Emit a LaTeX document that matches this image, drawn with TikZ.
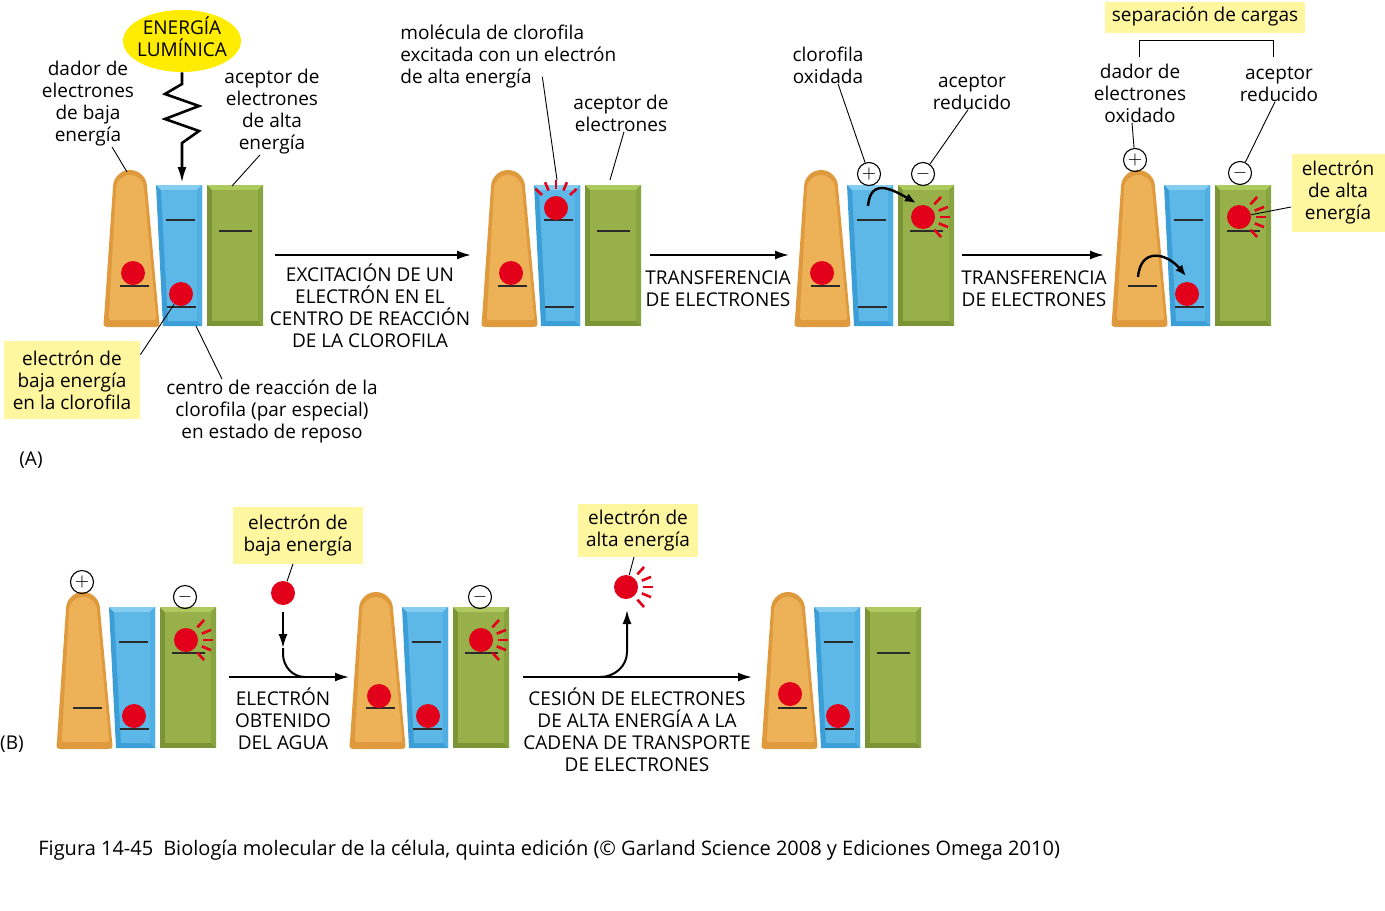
\documentclass[tikz,border=0pt]{standalone}
\usepackage{fontspec}
\setmainfont{Open Sans}
\usetikzlibrary{arrows.meta,positioning,shapes.geometric}
\definecolor{ormain}{HTML}{EDB257}
\definecolor{ordark}{HTML}{E09A3E}
\definecolor{blmain}{HTML}{5DB8E8}
\definecolor{bldark}{HTML}{3C9ED6}
\definecolor{bllight}{HTML}{84CDF1}
\definecolor{blmid}{HTML}{4FAEE2}
\definecolor{grmain}{HTML}{97B04A}
\definecolor{grdark}{HTML}{7A9436}
\definecolor{grlight}{HTML}{AECA5E}
\definecolor{grmid}{HTML}{88A440}
\definecolor{elecred}{HTML}{E3001B}
\definecolor{hlyellow}{HTML}{FFF6A0}
\definecolor{lightyellow}{HTML}{FFEC00}
\definecolor{lvlgray}{HTML}{2B2B2B}

\begin{document}
\begin{tikzpicture}[
    x=0.5pt, y=-0.5pt,
    lbl/.style={align=center, inner sep=0pt, font=\fontsize{9.5}{11}\selectfont},
    hl/.style={lbl, fill=hlyellow},
    lvl/.style={draw=lvlgray, line width=0.8pt},
    elec/.style={circle, fill=elecred, minimum size=12pt, inner sep=0pt},
    ray/.style={draw=elecred, line width=1.3pt},
    charge/.style={circle, draw=black, line width=0.55pt, minimum size=11.5pt, inner sep=0pt, font=\fontsize{9}{9}\selectfont},
    leader/.style={draw=black, line width=0.45pt},
    arrow/.style={-{Latex[length=7pt,width=4.5pt]}, line width=1pt},
    carrow/.style={-{Latex[length=5.5pt,width=4.5pt]}, line width=1.2pt}
]
\useasboundingbox (0,0) rectangle (1385,910);

% the seven photosystem units
\foreach \dx/\dy in {0/0,378/0,691/0,1008/0,-47/422,246/422,658/422}{
\begin{scope}[shift={(\dx,\dy)}]
  % donor
  \fill[ordark] (113,187) arc[start angle=180,end angle=360,radius=17]
     -- (159,319) .. controls (160,327) .. (152,327) -- (111,327)
     .. controls (103,327) .. (104,319) -- cycle;
  \fill[ormain] (116,189) arc[start angle=180,end angle=360,radius=14]
     -- (156,316) .. controls (156,320) .. (152,320) -- (113,320)
     .. controls (109,320) .. (109,316) -- cycle;
  % special pair
  \fill[bldark] (156,185) -- (202,185) -- (202,326) -- (163,326) -- cycle;
  \fill[bllight] (156,185) -- (202,185) -- (197,190) -- (161,190) -- cycle;
  \fill[blmid] (202,185) -- (202,326) -- (197,321) -- (197,190) -- cycle;
  \fill[blmain] (161,190) -- (197,190) -- (197,321) -- (168,321) -- cycle;
  % acceptor
  \fill[grdark] (207,185) rectangle (263,326);
  \fill[grlight] (207,185) -- (263,185) -- (258,190) -- (212,190) -- cycle;
  \fill[grmid] (263,185) -- (263,326) -- (258,321) -- (258,190) -- cycle;
  \fill[grmain] (212,190) rectangle (258,321);
  % energy levels
  \draw[lvl] (120,286) -- (149,286);
  \draw[lvl] (166,220) -- (195,220);
  \draw[lvl] (167,307) -- (196,307);
  \draw[lvl] (219,231) -- (252,231);
\end{scope}}

% ---------- (A) ----------
\node[ellipse, fill=lightyellow, minimum width=59pt, minimum height=31pt, inner sep=0pt] (luz) at (182,41) {};
\node[lbl] (luztxt) at (182,37) {ENERGÍA\\LUMÍNICA};
\coordinate (s1top) at (182,183);
\draw[-{Latex[length=8pt,width=4.5pt]}, line width=1.3pt] (luz.south) -- (182,84) -- (165,94) -- (199,106)
     -- (165,119) -- (199,131) -- (182,143) -- (s1top);

\node[elec] (o1) at (133,273) {};
\node[elec] (b1) at (181,294) {};

\node[lbl] (dador) at (88,104) {dador de\\electrones\\de baja\\energía};
\node[lbl] (acepA) at (272,112) {aceptor de\\electrones\\de alta\\energía};
\node[hl, minimum width=68pt, minimum height=39pt] (baja) at (72,380) {electrón de\\baja energía\\en la clorofila};
\node[lbl] (centro) at (272,411) {centro de reacción de la\\clorofila (par especial)\\en estado de reposo};
\node[lbl] (labA) at (31,460) {(A)};
\coordinate (t1o) at (127,172);
\coordinate (t1g) at (232,186);
\coordinate (t1b) at (196,326);
\draw[leader] ([xshift=12pt]dador.south) -- (t1o);
\draw[leader] ([xshift=-6pt]acepA.south) -- (t1g);
\draw[leader] ([yshift=-7pt]baja.north east) -- (b1);
\draw[leader] ([xshift=-25pt]centro.north) -- (t1b);

\coordinate (a1s) at (275,255);
\coordinate (a1e) at (471,255);
\draw[arrow] (a1s) -- (a1e);
\node[lbl] (exc) at (370,306) {EXCITACIÓN DE UN\\ELECTRÓN EN EL\\CENTRO DE REACCIÓN\\DE LA CLOROFILA};

% unit 2
\node[elec] (o2) at (511,273) {};
\node[elec] (e2) at (556,208) {};
\foreach \a in {223,247,270,293,317}
  \draw[ray] (e2) ++(\a:19) -- ++(\a:9);
\node[lbl, align=left, anchor=west] (molec) at (400,57) {molécula de clorofila\\excitada con un electrón\\de alta energía};
\node[lbl] (acep2) at (621,113) {aceptor de\\electrones};
\coordinate (t2e) at (557,180);
\coordinate (t2g) at (610,180);
\draw[leader] ([xshift=17pt,yshift=6pt]molec.south) -- (t2e);
\draw[leader] ([xshift=1.5pt]acep2.south) -- (t2g);

\coordinate (a2s) at (650,255);
\coordinate (a2e) at (789,255);
\draw[arrow] (a2s) -- (a2e);
\node[lbl] (tr1) at (718,289) {TRANSFERENCIA\\DE ELECTRONES};

% unit 3
\node[elec] (o3) at (822,273) {};
\node[elec] (g3) at (923,217) {};
\foreach \a in {-48,-22,0,22,48}
  \draw[ray] (g3) ++(\a:17) -- ++(\a:10);
\node[charge] (p3) at (869,174) {$+$};
\node[charge] (m3) at (923,174) {$-$};
\coordinate (c3s) at (868,206);
\coordinate (c3e) at (916,203);
\draw[carrow] (c3s) to[out=85,in=150,looseness=1.5] (c3e);
\node[lbl] (cloro) at (828,65) {clorofila\\oxidada};
\node[lbl] (acepred) at (972,92) {aceptor\\reducido};
\draw[leader] ([xshift=5pt]cloro.south) -- (p3);
\draw[leader] ([xshift=-2pt]acepred.south) -- (m3);

\coordinate (a3s) at (962,255);
\coordinate (a3e) at (1104,255);
\draw[arrow] (a3s) -- (a3e);
\node[lbl] (tr2) at (1034,289) {TRANSFERENCIA\\DE ELECTRONES};

% unit 4
\node[elec] (b4) at (1187,294) {};
\node[elec] (g4) at (1239,217) {};
\node[hl, minimum width=46.5pt, minimum height=39pt] (alta) at (1338,193) {electrón\\de alta\\energía};
\draw[leader] ([yshift=-7pt]alta.west) -- (g4);
\foreach \a in {-48,-22,0,22,48}
  \draw[ray] (g4) ++(\a:17) -- ++(\a:10);
\node[charge] (p4) at (1135,160) {$+$};
\node[charge] (m4) at (1240,173) {$-$};
\coordinate (c4s) at (1138,277);
\coordinate (c4e) at (1186,276);
\draw[carrow] (c4s) to[out=85,in=130,looseness=1.6] (c4e);

\node[hl, minimum width=100pt, minimum height=15.5pt] (sep) at (1205,17) {separación de cargas};
\draw[leader] (1139,57) -- (1139,40) -- (1273,40) -- (1273,57);
\node[lbl] (dadorox) at (1140,93) {dador de\\electrones\\oxidado};
\node[lbl] (acepred2) at (1279,84) {aceptor\\reducido};
\draw[leader] ([xshift=-4pt]dadorox.south) -- (p4);
\draw[leader] ([xshift=-2pt]acepred2.south) -- (m4);

% ---------- (B) ----------
\node[lbl] (labB) at (12,744) {(B)};

% unit B1
\node[elec] (b5) at (134,716) {};
\node[elec] (g5) at (186,640) {};
\foreach \a in {-48,-22,0,22,48}
  \draw[ray] (g5) ++(\a:17) -- ++(\a:10);
\node[charge] (p5) at (82,582) {$+$};
\node[charge] (m5) at (185,597) {$-$};

\node[hl, minimum width=65pt, minimum height=28.5pt] (bajaB) at (298,535) {electrón de\\baja energía};
\node[elec] (wb) at (283,593) {};
\draw[leader] ([xshift=-2.5pt]bajaB.south) -- (wb);
\coordinate (b1s) at (229,677);
\coordinate (b1e) at (349,677);
\coordinate (wbm) at (283,648);
\coordinate (wbj) at (305,677);
\draw[arrow] (b1s) -- (b1e);
\draw[arrow, shorten <=3.5pt] (wb) -- (wbm);
\draw[line width=1pt] (wbm) -- ++(0,6) to[out=-90,in=180] (wbj);
\node[lbl] (agua) at (283,719) {ELECTRÓN\\OBTENIDO\\DEL AGUA};

% unit B2
\node[elec] (o6) at (379,696) {};
\node[elec] (b6) at (428,716) {};
\node[elec] (g6) at (481,640) {};
\foreach \a in {-48,-22,0,22,48}
  \draw[ray] (g6) ++(\a:17) -- ++(\a:10);
\node[charge] (m6) at (480,597) {$-$};

\node[hl, minimum width=60pt, minimum height=26.5pt] (altaB) at (638,530) {electrón de\\alta energía};
\node[elec] (wa) at (626,587) {};
\foreach \a in {-48,-22,0,22,48}
  \draw[ray] (wa) ++(\a:17) -- ++(\a:10);
\draw[leader] ([xshift=-2pt]altaB.south) -- (wa);
\coordinate (b2s) at (523,677);
\coordinate (b2e) at (752,677);
\coordinate (b2j) at (600,677);
\coordinate (b2t) at (627,610);
\draw[arrow] (b2s) -- (b2e);
\draw[arrow] (b2j) to[out=0,in=-90] (627,652) -- (b2t);
\node[lbl] (cesion) at (637,730) {CESIÓN DE ELECTRONES\\DE ALTA ENERGÍA A LA\\CADENA DE TRANSPORTE\\DE ELECTRONES};

% unit B3
\node[elec] (o7) at (790,694) {};
\node[elec] (b7) at (838,716) {};

% caption
\node[lbl, anchor=west, font=\fontsize{10}{12}\selectfont] (caption) at (38,850) {Figura 14-45\enspace Biología molecular de la célula, quinta edición (© Garland Science 2008 y Ediciones Omega 2010)};
\end{tikzpicture}
\end{document}
